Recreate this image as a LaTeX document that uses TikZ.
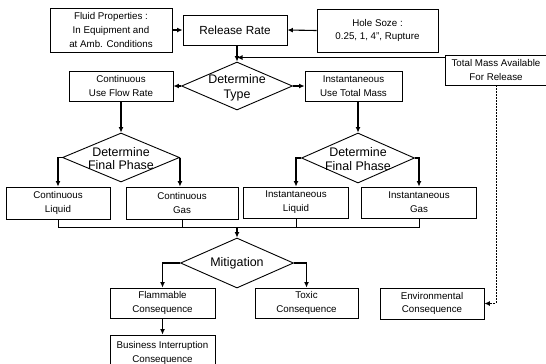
\documentclass[tikz,border=0pt]{standalone}
\usepackage{fontspec}
\setmainfont{Liberation Sans}
\usetikzlibrary{shapes.geometric,arrows.meta,calc}
\begin{document}
\begin{tikzpicture}[x=1bp,y=-1bp,
  box/.style={draw, line width=0.9bp, inner sep=0pt, align=center,
    font=\fontsize{9.8}{13.8}\selectfont},
  bigbox/.style={box, font=\fontsize{11.8}{14}\selectfont},
  dia/.style={draw, diamond, line width=0.9bp, inner sep=0pt},
  diatext/.style={align=center, inner sep=0pt, font=\fontsize{12.5}{15}\selectfont},
  arr/.style={line width=1.1bp, -{Latex[length=5.5bp,width=5bp]}},
  ln/.style={line width=0.9bp},
  dsh/.style={line width=0.9bp, dash pattern=on 2bp off 1bp, -{Latex[length=5.5bp,width=5bp]}}]
\fill[white] (0,0) rectangle (546,363);
\useasboundingbox (0,0) rectangle (546,363);
\begin{scope}
\clip (0,0) rectangle (546,363);
% top row
\node[box, minimum width=122bp, minimum height=44bp] (fluid) at (111,30) {Fluid Properties :\\In Equipment and\\at Amb. Conditions};
\node[bigbox, minimum width=104bp, minimum height=30bp] (rr) at (235,30) {Release Rate};
\node[box, minimum width=121bp, minimum height=43bp] (hole) at (377.5,30.5) {Hole Soze :\\0.25, 1, 4", Rupture};
\node[box, minimum width=102bp, minimum height=30bp] (tm) at (496,70) {Total Mass Available\\For Release};
% determine type
\node[dia, minimum width=111bp, minimum height=48bp] (dt) at (237,86) {};
\node[diatext] at (237,88) {Determine\\Type};
\node[box, minimum width=104bp, minimum height=30bp] (cuf) at (121,86) {Continuous\\Use Flow Rate};
\node[box, minimum width=97bp, minimum height=30bp] (iut) at (353.5,86) {Instantaneous\\Use Total Mass};
% final phase diamonds
\node[dia, minimum width=117bp, minimum height=49bp] (dfl) at (121,157.5) {};
\node[diatext, font=\fontsize{12.5}{13.5}\selectfont] at (121,158.5) {Determine\\Final Phase};
\node[dia, minimum width=113bp, minimum height=50bp] (dfr) at (358,158) {};
\node[diatext, font=\fontsize{12.5}{13.5}\selectfont] at (358,159) {Determine\\Final Phase};
% phase boxes
\node[box, minimum width=104bp, minimum height=32bp] (cl) at (58,203) {Continuous\\Liquid};
\node[box, minimum width=112bp, minimum height=32bp] (cg) at (182,203) {Continuous\\Gas};
\node[box, minimum width=105bp, minimum height=31bp] (il) at (296,202.5) {Instantaneous\\Liquid};
\node[box, minimum width=115bp, minimum height=31bp] (ig) at (419,202.5) {Instantaneous\\Gas};
% mitigation
\node[dia, minimum width=113bp, minimum height=50bp] (mit) at (237,263) {};
\node[diatext] at (237,263) {Mitigation};
% consequences
\node[box, minimum width=105bp, minimum height=30bp] (fl) at (162.5,303) {Flammable\\Consequence};
\node[box, minimum width=103bp, minimum height=30bp] (tox) at (306.5,303) {Toxic\\Consequence};
\node[box, minimum width=104bp, minimum height=31bp] (env) at (432,303.5) {Environmental\\Consequence};
\node[box, minimum width=105bp, minimum height=36bp] (bi) at (162.5,353) {Business Interruption\\Consequence};
% connectors
\draw[arr] (fluid.east) -- (rr.west);
\draw[arr] (hole.west) -- (rr.east);
\draw[arr] (rr.south -| dt.north) -- (dt.north);
\coordinate (tmj) at ($(tm.north west)+(0,3)$);
\draw[arr] (tmj) -- (tmj -| dt.north);
\draw[arr] (dt.west) -- (cuf.east);
\draw[arr] (dt.east) -- (iut.west);
\draw[arr] (cuf.south -| dfl.north) -- (dfl.north);
\draw[arr] (dfr.north |- iut.south) -- (dfr.north);
\draw[arr] (dfl.west) -| (cl.north);
\draw[arr] (dfl.east) -- (dfl.east |- cg.north);
\draw[arr] (dfr.west) -| (il.north);
\draw[arr] (dfr.east) -| (ig.north);
% collector
\coordinate (colL) at (58,227);
\coordinate (colR) at (419,227);
\draw[ln] (cl.south) -- (colL) -- (colR) -- (ig.south);
\draw[ln] (cg.south) -- (cg.south |- colL);
\draw[ln] (il.south) -- (il.south |- colL);
\draw[arr] (mit.north |- colL) -- (mit.north);
\draw[arr] (mit.west) -| (fl.north);
\draw[arr] (mit.east) -| (tox.north);
\draw[arr] (fl.south) -- (bi.north);
\draw[dsh] (tm.south) |- (env.east);
\end{scope}
\end{tikzpicture}
\end{document}
